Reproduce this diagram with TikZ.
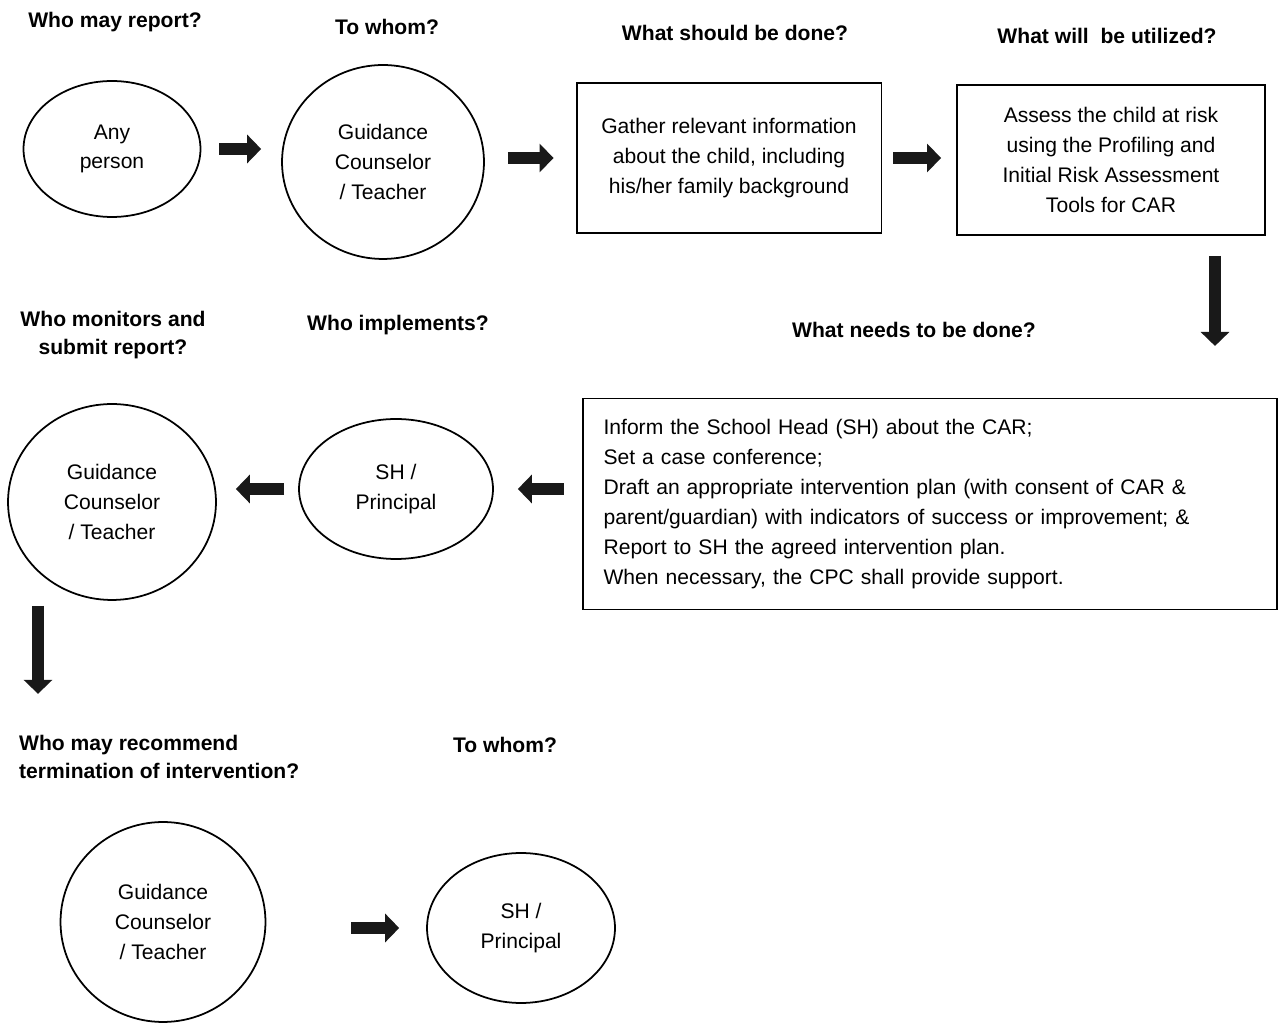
\documentclass[tikz,border=0pt]{standalone}
\usepackage{fontspec}
\setmainfont{Liberation Sans}
\usepackage{tikz}
\usetikzlibrary{calc,positioning,arrows.meta,shapes.geometric}
\tikzset{
    person/.style={
        ellipse,
        draw=black, line width=1pt,
        inner sep=0pt,
        align=center
    },
    task/.style={
        rectangle,
        draw=black, line width=1.1pt,
        inner sep=0pt,
        align=center
    },
    question/.style={
        font={\fontsize{12pt}{16}\bfseries\selectfont},
        align=center
    },
    blockarrow/.style={
        draw=black!90, line width=7pt,
        -{Triangle[length=8pt,width=16pt]}
    },
    font={\fontsize{12pt}{17}\selectfont},
}

\begin{document}
\begin{tikzpicture}[x=0.02cm,y=-0.02cm]
        \useasboundingbox (0,0) rectangle (1279,1026);

        % Questions above each step
        \node[question] (q1) at (115,22)  {Who may report?};
        \node[question] (q2) at (387,27)  {To whom?};
        \node[question] (q3) at (735,33)  {What should be done?};
        \node[question] (q4) at (1107,36) {What will~ be utilized?};
        \node[question] (q5) at (113,335) {Who monitors and\\submit report?};
        \node[question] (q6) at (398,325) {Who implements?};
        \node[question] (q7) at (914,330) {What needs to be done?};
        \node[question, align=left, anchor=west] (q8) at (13,757)
            {Who may recommend\\termination of intervention?};
        \node[question] (q9) at (505,745) {To whom?};

        % First row
        \node[person, minimum width=3.54cm, minimum height=2.72cm] (any) at (112,149)
            {Any\\person};
        \node[person, minimum width=4.04cm, minimum height=3.88cm] (gc1) at (383,162)
            {Guidance\\Counselor\\/ Teacher};
        \node[task, minimum width=6.1cm, minimum height=3cm] (gather) at (729,158)
            {Gather relevant information\\about the child, including\\his/her family background};
        \node[task, minimum width=6.16cm, minimum height=3cm] (assess) at (1111,160)
            {Assess the child at risk\\using the Profiling and\\Initial Risk Assessment\\Tools for CAR};

        % Second row
        \node[task, align=left, text width=13.06cm, inner sep=0.42cm,
              minimum height=4.04cm] (inform) at (930,504)
            {Inform the School Head (SH) about the CAR;\\
             Set a case conference;\\
             Draft an appropriate intervention plan (with consent of CAR \&\\
             parent/guardian) with indicators of success or improvement; \&\\
             Report to SH the agreed intervention plan.\\
             When necessary, the CPC shall provide support.};
        \node[person, minimum width=3.88cm, minimum height=2.8cm] (sh1) at (396,489)
            {SH /\\Principal};
        \node[person, minimum width=4.16cm, minimum height=3.92cm] (gc2) at (112,502)
            {Guidance\\Counselor\\/ Teacher};

        % Third row
        \node[person, minimum width=4.1cm, minimum height=4cm] (gc3) at (163,922)
            {Guidance\\Counselor\\/ Teacher};
        \node[person, minimum width=3.76cm, minimum height=3cm] (sh2) at (521,928)
            {SH /\\Principal};

        % Block arrows between the steps
        \draw[blockarrow, shorten <=0.36cm, shorten >=0.4cm] (any.east) -- (any.east -| gc1.west);
        \draw[blockarrow, shorten <=0.46cm, shorten >=0.44cm] (gather.west -| gc1.east) -- (gather.west);
        \draw[blockarrow, shorten <=0.22cm, shorten >=0.3cm] (gather.east) -- (gather.east -| assess.west);
        \draw[blockarrow] ($(assess.south)+(104,20)$) -- ++(0,90);
        \draw[blockarrow, shorten <=0.36cm, shorten >=0.48cm] (inform.west |- sh1.east) -- (sh1.east);
        \draw[blockarrow, shorten <=0.28cm, shorten >=0.38cm] (sh1.west) -- (sh1.west -| gc2.east);
        \draw[blockarrow] ($(gc2.south)+(-74,5)$) -- ++(0,88);
        \draw[blockarrow, shorten <=1.7cm, shorten >=0.54cm] (gc3.east |- sh2.west) -- (sh2.west);

\end{tikzpicture}
\end{document}
